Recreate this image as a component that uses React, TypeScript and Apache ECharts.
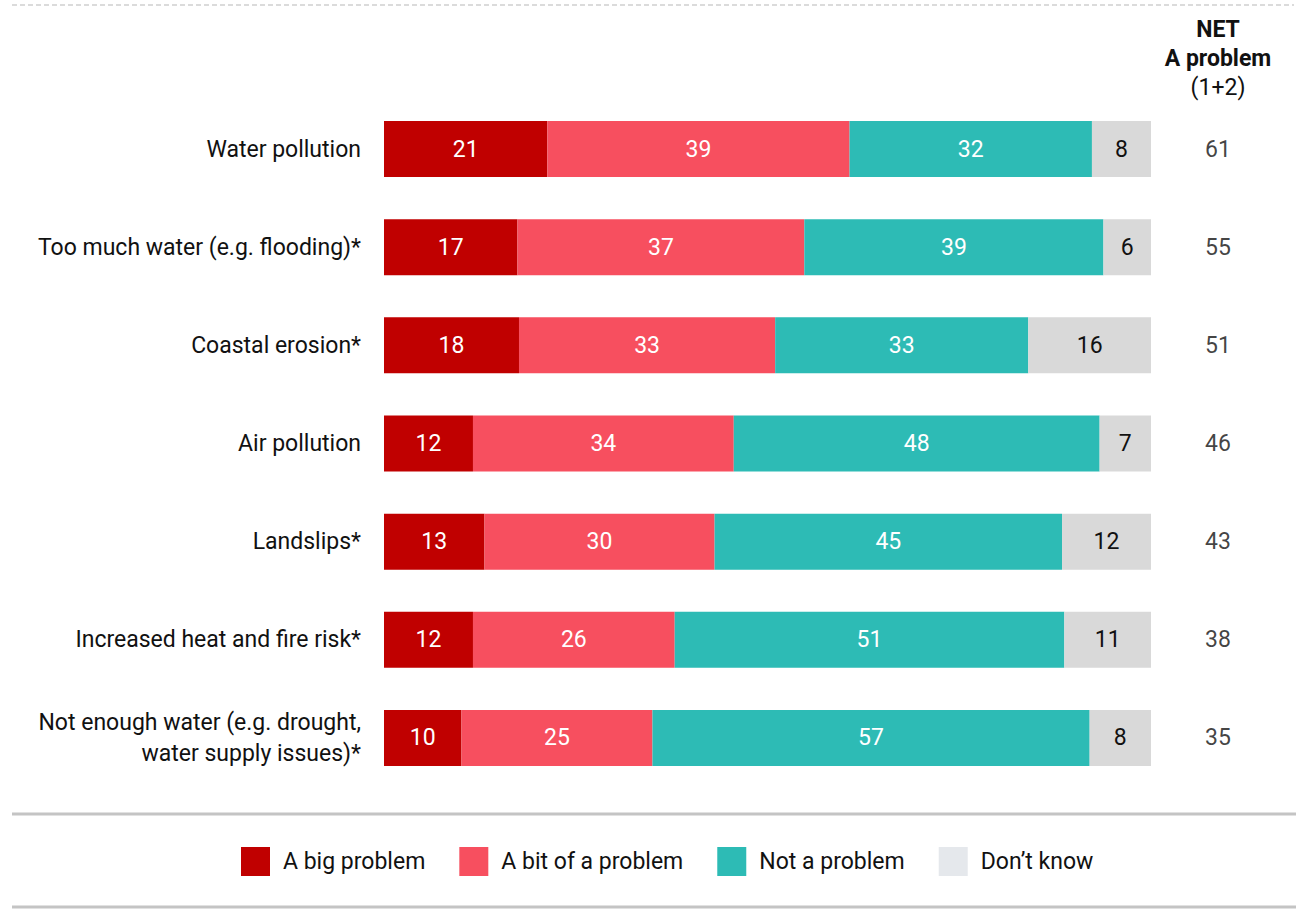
import React, { useEffect, useRef } from "react";
import * as echarts from "echarts";

const categories = [
  "Water pollution",
  "Too much water (e.g. flooding)*",
  "Coastal erosion*",
  "Air pollution",
  "Landslips*",
  "Increased heat and fire risk*",
  "Not enough water (e.g. drought,\nwater supply issues)*",
];
const seriesNames = ["A big problem", "A bit of a problem", "Not a problem", "Don\u2019t know"];
const bigProblem = [21.3, 17.4, 17.6, 11.6, 13.1, 11.6, 10.1];
const bitProblem = [39.4, 37.4, 33.4, 34.0, 30.0, 26.3, 24.9];
const notProblem = [31.6, 39.0, 33.0, 47.7, 45.3, 50.8, 57.0];
const dontKnow = [7.7, 6.2, 16.0, 6.7, 11.6, 11.3, 8.0];
const netProblem = [61, 55, 51, 46, 43, 38, 35];
const netHeader = ["NET", "A problem", "(1+2)"];

const barColors = ["#C00000", "#F74F5F", "#2DBBB5", "#D9D9D9"];
const legendColors = ["#C00000", "#F74F5F", "#2DBBB5", "#E5E8EC"];
const labelColors = ["#FFFFFF", "#FFFFFF", "#FFFFFF", "#111111"];
const FONT = "Roboto";

export default function App() {
  const ref = useRef<HTMLDivElement>(null);
  useEffect(() => {
    document.body.style.margin = "0";
    const chart = echarts.init(ref.current!, null, { renderer: "svg" });
    const values = [bigProblem, bitProblem, notProblem, dontKnow];
    const option: any = {
      animation: false,
      backgroundColor: "#FFFFFF",
      textStyle: { fontFamily: FONT },
      grid: [
        { left: 384, width: 767, top: 100, height: 687 },
        { left: 1185, width: 66, top: 100, height: 687 },
      ],
      xAxis: [
        { type: "value", min: 0, max: 100, show: false, gridIndex: 0 },
        { type: "value", min: 0, max: 1, show: false, gridIndex: 1 },
      ],
      yAxis: [
        {
          type: "category",
          data: categories,
          inverse: true,
          gridIndex: 0,
          axisLine: { show: false },
          axisTick: { show: false },
          axisLabel: {
            margin: 23,
            fontSize: 23,
            color: "#111111",
            fontFamily: FONT,
            lineHeight: 31,
            align: "right",
          },
        },
        {
          type: "category",
          data: categories,
          inverse: true,
          gridIndex: 1,
          show: false,
        },
      ],
      legend: {
        top: 847,
        left: 241,
        padding: 0,
        itemWidth: 29,
        itemHeight: 29,
        itemGap: 34,
        icon: "rect",
        selectedMode: false,
        textStyle: { fontSize: 23, color: "#111111", fontFamily: FONT, padding: [0, 0, 0, 8] },
        data: seriesNames.map((n, i) => ({ name: n, itemStyle: { color: legendColors[i] } })),
      },
      series: [
        ...seriesNames.map((name, i) => ({
          name,
          type: "bar",
          stack: "total",
          xAxisIndex: 0,
          yAxisIndex: 0,
          barWidth: 56,
          data: values[i],
          itemStyle: { color: barColors[i] },
          label: {
            show: true,
            position: "inside",
            fontSize: 23,
            fontFamily: FONT,
            color: labelColors[i],
            formatter: (p: any) => String(Math.round(p.value)),
          },
          emphasis: { disabled: true },
        })),
        {
          name: "NET",
          type: "scatter",
          xAxisIndex: 1,
          yAxisIndex: 1,
          symbolSize: 1,
          itemStyle: { color: "rgba(0,0,0,0)" },
          data: netProblem.map((v, i) => [0.5, i, v]),
          label: {
            show: true,
            position: "inside",
            fontSize: 23,
            fontFamily: FONT,
            color: "#111111",
            formatter: (p: any) => String(p.value[2]),
          },
          silent: true,
        },
      ],
      graphic: [
        {
          type: "line",
          shape: { x1: 12, y1: 5, x2: 1294, y2: 5 },
          style: { stroke: "#CFCFCF", lineWidth: 1.5, lineDash: [5, 3] },
        },
        {
          type: "line",
          shape: { x1: 12, y1: 814, x2: 1296, y2: 814 },
          style: { stroke: "#C4C4C4", lineWidth: 3 },
        },
        {
          type: "line",
          shape: { x1: 12, y1: 907, x2: 1296, y2: 907 },
          style: { stroke: "#C4C4C4", lineWidth: 3 },
        },
        ...netHeader.map((t, i) => ({
          type: "text",
          x: 1218,
          y: 29 + i * 29,
          style: {
            text: t,
            align: "center",
            verticalAlign: "middle",
            fontSize: 23,
            fontFamily: FONT,
            fontWeight: i < 2 ? "bold" : "normal",
            fill: "#111111",
          },
        })),
      ],
    };
    chart.setOption(option);
    return () => chart.dispose();
  }, []);
  return <div ref={ref} style={{ width: 1314, height: 909 }} />;
}
